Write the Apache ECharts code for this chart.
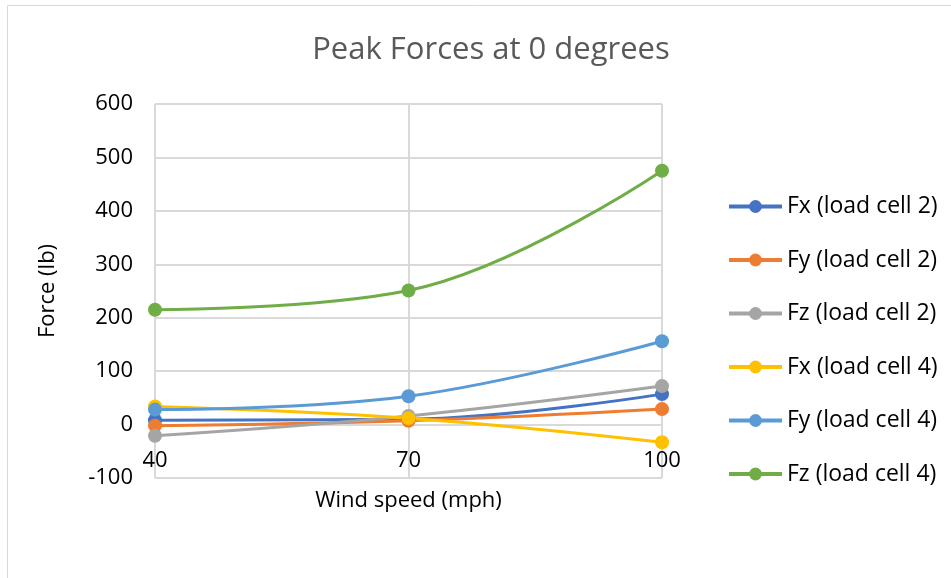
<!DOCTYPE html>
<html>
<head>
<meta charset="utf-8">
<script src="https://cdn.jsdelivr.net/npm/echarts@6/dist/echarts.min.js"></script>
<style>
html, body { margin: 0; padding: 0; background: #fff; }
#chart { width: 951px; height: 578px; }
</style>
</head>
<body>
<div id="chart"></div>
<script>
var windSpeeds = ['40', '70', '100'];
var fx2 = [8, 10, 57];
var fy2 = [-2, 7, 29];
var fz2 = [-21, 16, 72];
var fx4 = [34, 12, -33];
var fy4 = [28, 53, 156];
var fz4 = [215, 251, 475];

var names = ['Fx (load cell 2)', 'Fy (load cell 2)', 'Fz (load cell 2)',
    'Fx (load cell 4)', 'Fy (load cell 4)', 'Fz (load cell 4)'];
var colors = ['#4472C4', '#ED7D31', '#A5A5A5', '#FFC000', '#5B9BD5', '#70AD47'];
var values = [fx2, fy2, fz2, fx4, fy4, fz4];

var font = '"Open Sans", Lato, sans-serif';

var series = names.map(function (n, i) {
    return {
        name: n,
        type: 'line',
        smooth: 0.4,
        data: values[i],
        color: colors[i],
        symbol: 'circle',
        symbolSize: 14,
        lineStyle: { width: 3 }
    };
});

var myChart = echarts.init(document.getElementById('chart'));
var option = {
    animation: false,
    graphic: [{
        type: 'rect',
        shape: { x: 7.5, y: 5.5, width: 960, height: 600 },
        style: { fill: 'none', stroke: '#d9d9d9', lineWidth: 1 }
    }],
    title: {
        text: 'Peak Forces at 0 degrees',
        left: 486,
        textAlign: 'center',
        top: 30,
        textStyle: { fontFamily: font, fontSize: 31, fontWeight: 'normal', color: '#595959' }
    },
    legend: {
        orient: 'vertical',
        left: 722,
        top: 190,
        itemWidth: 53,
        itemHeight: 16,
        itemGap: 30.5,
        lineStyle: { width: 4 },
        textStyle: { fontFamily: font, fontSize: 23, color: '#000' },
        data: names
    },
    grid: { left: 155, right: 289, top: 104, bottom: 100 },
    xAxis: {
        type: 'category',
        data: windSpeeds,
        boundaryGap: false,
        offset: -53.4,
        name: 'Wind speed (mph)',
        nameLocation: 'middle',
        nameGap: 65,
        nameTextStyle: { fontFamily: font, fontSize: 22, color: '#000' },
        axisLine: { show: true, onZero: false, lineStyle: { color: '#d9d9d9', width: 2 } },
        axisTick: { show: false },
        axisLabel: { fontFamily: font, fontSize: 22, color: '#000', margin: 25 },
        splitLine: { show: true, lineStyle: { color: '#d9d9d9', width: 2 } }
    },
    yAxis: {
        type: 'value',
        min: -100,
        max: 600,
        interval: 100,
        name: 'Force (lb)',
        nameLocation: 'middle',
        nameGap: 96,
        nameTextStyle: { fontFamily: font, fontSize: 22, color: '#000' },
        axisLine: { show: false },
        axisTick: { show: false },
        axisLabel: { fontFamily: font, fontSize: 22, color: '#000', margin: 22 },
        splitLine: { lineStyle: { color: '#d9d9d9', width: 2 } }
    },
    series: series
};
myChart.setOption(option);
</script>
</body>
</html>
